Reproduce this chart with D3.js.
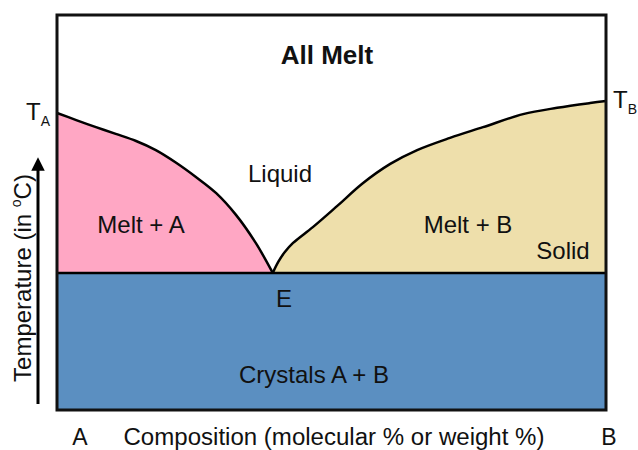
<!DOCTYPE html>
<html>
<head>
<meta charset="utf-8">
<script src="https://cdn.jsdelivr.net/npm/d3@7"></script>
<style>
  body { margin: 0; background: #fff; }
  text { font-family: "Liberation Sans", Arial, sans-serif; fill: #111; }
</style>
</head>
<body>
<div id="chart"></div>
<script>
// composition (% B) and temperature (relative 0-100) of liquidus curves
var leftComp  = [0, 3.5, 7.1, 10.7, 14.4, 18.0, 21.7, 25.3, 29.0, 32.6, 36.2, 39.3];
var leftTemp  = [75.2, 73.4, 71.6, 69.9, 68.1, 65.8, 62.6, 59.0, 54.9, 49.4, 42.3, 34.7];
var rightComp = [39.3, 40.3, 41.5, 43.0, 46.6, 51.0, 55.7, 60.7, 65.6, 71.6, 77.6, 84.9, 91.1, 97.1, 100];
var rightTemp = [34.7, 37.5, 40.0, 42.3, 46.3, 51.6, 57.4, 62.3, 65.8, 68.9, 71.6, 74.9, 76.5, 77.7, 78.2];
var eutecticTemp = 34.7;

var width = 638, height = 450;
var margin = {top: 15, right: 32, bottom: 40, left: 57};

var x = d3.scaleLinear().domain([0, 100]).range([margin.left, width - margin.right]);
var y = d3.scaleLinear().domain([0, 100]).range([height - margin.bottom, margin.top]);

var svg = d3.select("#chart").append("svg")
    .attr("width", width)
    .attr("height", height);

var leftData = leftComp.map(function(c, i) { return {c: c, t: leftTemp[i]}; });
var rightData = rightComp.map(function(c, i) { return {c: c, t: rightTemp[i]}; });

// crystals region
svg.append("rect")
    .attr("x", x(0))
    .attr("y", y(eutecticTemp))
    .attr("width", x(100) - x(0))
    .attr("height", y(0) - y(eutecticTemp))
    .style("fill", "#5b8fc1");

var area = d3.area()
    .x(function(d) { return x(d.c); })
    .y0(y(eutecticTemp))
    .y1(function(d) { return y(d.t); })
    .curve(d3.curveCatmullRom.alpha(0.5));

svg.append("path").datum(leftData).attr("d", area).style("fill", "#ffa7c4");
svg.append("path").datum(rightData).attr("d", area).style("fill", "#eedfab");

var line = d3.line()
    .x(function(d) { return x(d.c); })
    .y(function(d) { return y(d.t); })
    .curve(d3.curveCatmullRom.alpha(0.5));

[leftData, rightData].forEach(function(d) {
  svg.append("path").datum(d).attr("d", line)
      .style("fill", "none")
      .style("stroke", "#000")
      .style("stroke-width", 2.5);
});

// eutectic line
svg.append("line")
    .attr("x1", x(0)).attr("x2", x(100))
    .attr("y1", y(eutecticTemp)).attr("y2", y(eutecticTemp))
    .style("stroke", "#000")
    .style("stroke-width", 2.5);

// frame
svg.append("rect")
    .attr("x", x(0)).attr("y", y(100))
    .attr("width", x(100) - x(0))
    .attr("height", y(0) - y(100))
    .style("fill", "none")
    .style("stroke", "#111")
    .style("stroke-width", 3);

// region labels
function label(tx, ty, s, size, bold) {
  return svg.append("text")
      .attr("x", tx).attr("y", ty)
      .attr("text-anchor", "middle")
      .style("font-size", size + "px")
      .style("font-weight", bold ? "bold" : "normal")
      .text(s);
}
label(327, 64, "All Melt", 26, true);
label(280, 182, "Liquid", 24);
label(141, 233, "Melt + A", 24);
label(468, 233, "Melt + B", 24);
label(563, 259, "Solid", 24);
label(284, 307, "E", 24);
label(314, 383, "Crystals A + B", 24);

// end-member labels
label(80, 445, "A", 23);
label(609, 445, "B", 23);
label(334, 445, "Composition (molecular % or weight %)", 23).attr("textLength", 421).attr("lengthAdjust", "spacingAndGlyphs");

var ta = svg.append("text").attr("x", 26).attr("y", 120).style("font-size", "24px");
ta.append("tspan").text("T");
ta.append("tspan").attr("dy", 6).style("font-size", "14px").text("A");
var tb = svg.append("text").attr("x", 613).attr("y", 108).style("font-size", "24px");
tb.append("tspan").text("T");
tb.append("tspan").attr("dy", 6).style("font-size", "14px").text("B");

// temperature axis arrow
svg.append("defs").append("marker")
    .attr("id", "arrow")
    .attr("viewBox", "0 0 10 10")
    .attr("refX", 5).attr("refY", 5)
    .attr("markerWidth", 5.5).attr("markerHeight", 4.5)
    .attr("orient", "auto")
  .append("path")
    .attr("d", "M0,0 L10,5 L0,10 z")
    .style("fill", "#000");

svg.append("line")
    .attr("x1", 38).attr("x2", 38)
    .attr("y1", 404).attr("y2", 164)
    .style("stroke", "#000")
    .style("stroke-width", 3)
    .attr("marker-end", "url(#arrow)");

var yl = svg.append("text")
    .attr("transform", "translate(31,278) rotate(-90)")
    .attr("text-anchor", "middle")
    .style("font-size", "24px");
yl.append("tspan").text("Temperature (in ");
yl.append("tspan").attr("dy", -10).style("font-size", "14px").text("o");
yl.append("tspan").attr("dy", 10).text("C)");
</script>
</body>
</html>
